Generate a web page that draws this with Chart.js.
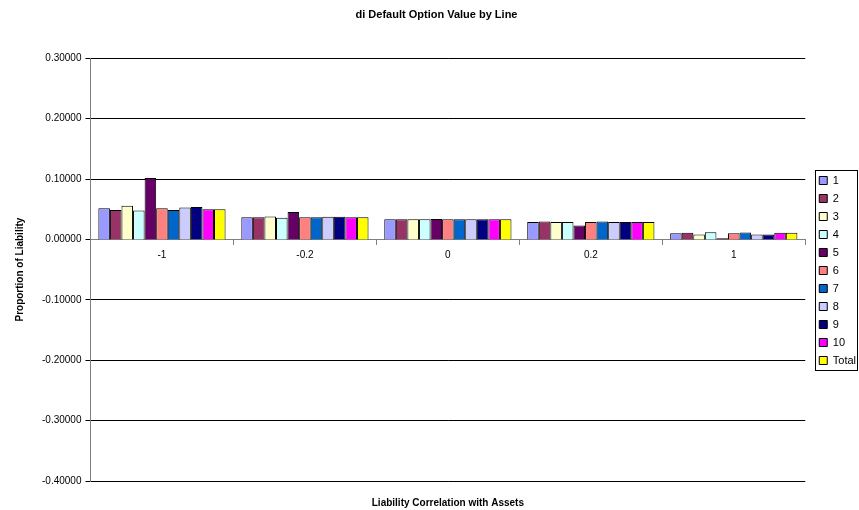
<!DOCTYPE html>
<html>
<head>
<meta charset="utf-8">
<script src="https://cdn.jsdelivr.net/npm/chart.js@4/dist/chart.umd.min.js"></script>
<style>
  html, body { margin: 0; padding: 0; background: #ffffff; }
  #wrap { width: 859px; height: 510px; position: relative; }
</style>
</head>
<body>
<div id="wrap"><canvas id="c" width="859" height="510"></canvas></div>
<script>
// Correlation scenarios along the category axis
const categories = ['-1', '-0.2', '0', '0.2', '1'];

// Default option value as a proportion of liability, one array per line
const line1  = [0.0514, 0.0365, 0.0332, 0.0287, 0.0100];
const line2  = [0.0486, 0.0365, 0.0332, 0.0298, 0.0110];
const line3  = [0.0557, 0.0380, 0.0332, 0.0287, 0.0080];
const line4  = [0.0480, 0.0360, 0.0332, 0.0290, 0.0120];
const line5  = [0.1017, 0.0453, 0.0336, 0.0232, 0.0017];
const line6  = [0.0514, 0.0365, 0.0332, 0.0290, 0.0100];
const line7  = [0.0486, 0.0365, 0.0332, 0.0298, 0.0115];
const line8  = [0.0530, 0.0376, 0.0332, 0.0287, 0.0080];
const line9  = [0.0536, 0.0376, 0.0332, 0.0287, 0.0080];
const line10 = [0.0498, 0.0365, 0.0332, 0.0290, 0.0110];
const total  = [0.0498, 0.0365, 0.0332, 0.0290, 0.0110];

const seriesNames = ['1', '2', '3', '4', '5', '6', '7', '8', '9', '10', 'Total'];
const seriesValues = [line1, line2, line3, line4, line5, line6, line7, line8, line9, line10, total];
const seriesColors = ['#9999FF', '#993366', '#FFFFCC', '#CCFFFF', '#660066', '#FF8080',
                      '#0066CC', '#CCCCFF', '#000080', '#FF00FF', '#FFFF00'];

// Value axis limits and tick step
const yMin = -0.4;
const yMax = 0.3;
const yStep = 0.1;

const FONT = 'Arial, "Liberation Sans", sans-serif';

// Nudges the legend block right and down, then frames its entries
const legendFrame = {
  id: 'legendFrame',
  afterLayout(chart) {
    const lg = chart.legend;
    if (!lg) return;
    const dx = 7, dy = 16;
    lg.left += dx; lg.right += dx;
    lg.top += dy; lg.bottom += dy;
  },
  afterDraw(chart) {
    const lg = chart.legend;
    if (!lg || !lg.legendHitBoxes || !lg.legendHitBoxes.length) return;
    const boxes = lg.legendHitBoxes;
    const left = Math.min(...boxes.map(b => b.left)) - 4;
    const top = boxes[0].top - 5;
    const last = boxes[boxes.length - 1];
    const bottom = last.top + last.height + 4;
    const right = chart.width - 1;
    const ctx = chart.ctx;
    ctx.save();
    ctx.strokeStyle = '#000000';
    ctx.lineWidth = 1;
    ctx.strokeRect(Math.round(left) + 0.5, Math.round(top) + 0.5,
                   Math.round(right - left) - 1, Math.round(bottom - top));
    ctx.restore();
  }
};

const datasets = seriesNames.map((name, i) => ({
  label: name,
  data: seriesValues[i],
  backgroundColor: seriesColors[i],
  borderColor: '#000000',
  borderWidth: 1,
  borderSkipped: 'bottom',
  categoryPercentage: 0.89,
  barPercentage: 1.0
}));

new Chart(document.getElementById('c'), {
  type: 'bar',
  data: { labels: categories, datasets },
  plugins: [legendFrame],
  options: {
    responsive: false,
    animation: false,
    devicePixelRatio: 1,
    layout: { padding: { top: 0, right: 0, bottom: 1, left: 14 } },
    plugins: {
      title: {
        display: true,
        text: 'di Default Option Value by Line',
        color: '#000000',
        font: { family: FONT, size: 11, weight: 'bold' },
        padding: { top: 8, bottom: 37 }
      },
      legend: {
        position: 'right',
        align: 'center',
        labels: {
          color: '#000000',
          font: { family: FONT, size: 11 },
          boxWidth: 8,
          boxHeight: 8,
          padding: 7,
          useBorderRadius: false
        }
      },
      tooltip: { enabled: false }
    },
    scales: {
      x: {
        type: 'category',
        position: { y: 0 },
        offset: true,
        border: { display: true, color: '#808080', width: 1 },
        grid: { display: true, offset: true, drawOnChartArea: false, drawTicks: true, tickLength: 5, color: '#808080' },
        ticks: { color: '#000000', font: { family: FONT, size: 10 }, padding: 5, maxRotation: 0 }
      },
      xTitle: {
        type: 'category',
        labels: categories,
        position: 'bottom',
        border: { display: false },
        grid: { display: false, drawTicks: false },
        ticks: { display: false },
        title: {
          display: true,
          text: 'Liability Correlation with Assets',
          color: '#000000',
          font: { family: FONT, size: 10, weight: 'bold' },
          padding: { top: 16, bottom: 0 }
        }
      },
      y: {
        min: yMin,
        max: yMax,
        border: { display: true, color: '#808080', width: 1 },
        grid: { color: '#000000', lineWidth: 1, drawTicks: true, tickLength: 5, tickColor: '#000000' },
        ticks: {
          stepSize: yStep,
          color: '#000000',
          font: { family: FONT, size: 10 },
          padding: 4,
          callback: (v) => (Math.round(Number(v) * 10) / 10 + 0).toFixed(5)
        },
        title: {
          display: true,
          text: 'Proportion of Liability',
          color: '#000000',
          font: { family: FONT, size: 10, weight: 'bold' },
          padding: { top: 0, bottom: 12 }
        }
      }
    }
  }
});
</script>
</body>
</html>
